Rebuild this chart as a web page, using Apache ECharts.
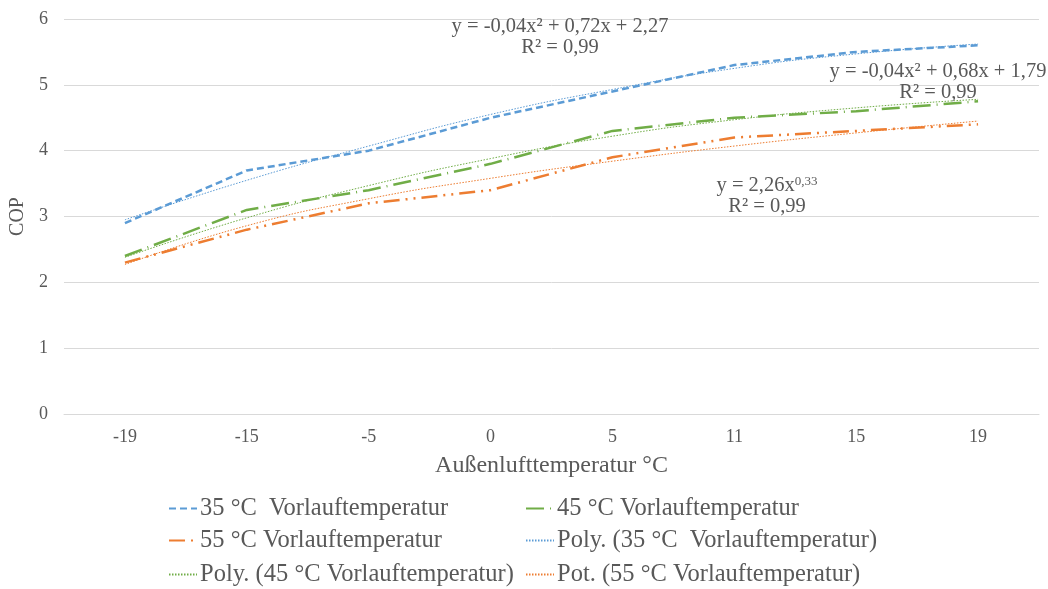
<!DOCTYPE html>
<html>
<head>
<meta charset="utf-8">
<script src="https://cdn.jsdelivr.net/npm/echarts@6/dist/echarts.min.js"></script>
<style>html,body{margin:0;padding:0;background:#fff}#c{width:1048px;height:589px}</style>
</head>
<body>
<div id="c"></div>
<script>
const categories = ['-19', '-15', '-5', '0', '5', '11', '15', '19'];
const cop35 = [2.9, 3.7, 4.0, 4.5, 4.9, 5.3, 5.5, 5.6];
const cop45 = [2.4, 3.1, 3.4, 3.8, 4.3, 4.5, 4.6, 4.75];
const cop55 = [2.3, 2.8, 3.2, 3.4, 3.9, 4.2, 4.3, 4.4];
const trend35 = [2.95, 3.55, 4.07, 4.55, 4.93, 5.25, 5.47, 5.62];
const trend45 = [2.38, 2.98, 3.47, 3.88, 4.22, 4.47, 4.65, 4.78];
const trend55 = [2.27, 2.86, 3.27, 3.58, 3.84, 4.07, 4.27, 4.45];
const names = [
  '35 °C  Vorlauftemperatur',
  '45 °C Vorlauftemperatur',
  '55 °C Vorlauftemperatur',
  'Poly. (35 °C  Vorlauftemperatur)',
  'Poly. (45 °C Vorlauftemperatur)',
  'Pot. (55 °C Vorlauftemperatur)'
];
const blue = '#5B9BD5', green = '#70AD47', orange = '#ED7D31';
const font = 'Liberation Serif';
const txt = '#595959';

const chart = echarts.init(document.getElementById('c'), null, {renderer: 'canvas'});

function lineSeries(name, data, color, width, type, smooth, z) {
  return {
    name: name, type: 'line', data: data, smooth: smooth, symbol: 'none',
    showSymbol: false, z: z,
    lineStyle: {color: color, width: width, type: type, cap: 'butt'},
    itemStyle: {color: color},
    emphasis: {disabled: true}, animation: false
  };
}

const legendPos = [
  {left: 168, top: 496}, {left: 525, top: 496},
  {left: 168, top: 528}, {left: 525, top: 528},
  {left: 168, top: 562}, {left: 525, top: 562}
];
const legends = names.map((n, k) => ({
  data: [n], left: legendPos[k].left, top: legendPos[k].top,
  itemWidth: 28, itemHeight: 12, itemGap: 0,
  itemStyle: {opacity: 0, borderWidth: 0},
  textStyle: {fontFamily: font, fontSize: 24.5, color: txt, padding: [0, 0, 0, -2]},
  selectedMode: false, padding: 0
}));

function annot(lines, cx, topY) {
  return lines.map((l, k) => ({
    type: 'text', x: cx, y: topY + k * 21,
    style: {
      text: l, fill: txt, font: '20.5px "' + font + '"', textAlign: 'center', textVerticalAlign: 'middle',
      rich: {sup: {fontSize: 13, fontFamily: font, fill: txt, verticalAlign: 'top', padding: [0, 0, 9, 0]}}
    },
    z: 10
  }));
}

const option = {
  backgroundColor: '#fff',
  animation: false,
  grid: {left: 64, right: 9, top: 19, bottom: 175, containLabel: false},
  legend: legends,
  xAxis: {
    type: 'category', data: categories, boundaryGap: true,
    name: 'Außenlufttemperatur °C', nameLocation: 'middle', nameGap: 40,
    nameTextStyle: {fontFamily: font, fontSize: 24, color: txt},
    axisLine: {show: true, lineStyle: {color: '#D9D9D9', width: 1}},
    axisTick: {show: false},
    axisLabel: {fontFamily: font, fontSize: 18, color: txt, margin: 14}
  },
  yAxis: {
    type: 'value', min: 0, max: 6, interval: 1,
    name: 'COP', nameLocation: 'middle', nameGap: 36,
    nameTextStyle: {fontFamily: font, fontSize: 20, color: txt},
    axisLine: {show: false}, axisTick: {show: false},
    axisLabel: {fontFamily: font, fontSize: 18, color: txt, margin: 16},
    splitLine: {lineStyle: {color: '#D9D9D9', width: 1}}
  },
  series: [
    lineSeries(names[0], cop35, blue, 2.5, [7, 4], false, 5),
    lineSeries(names[1], cop45, green, 2.5, [18, 6, 1, 6], false, 5),
    lineSeries(names[2], cop55, orange, 2.5, [16, 6, 2, 6, 2, 6], false, 5),
    lineSeries(names[3], trend35, blue, 1, [1.5, 1.5], true, 4),
    lineSeries(names[4], trend45, green, 1, [1.5, 1.5], true, 4),
    lineSeries(names[5], trend55, orange, 1, [1.5, 1.5], true, 4)
  ],
  graphic: [].concat(
    annot(['y = -0,04x² + 0,72x + 2,27', 'R² = 0,99'], 560, 27),
    annot(['y = -0,04x² + 0,68x + 1,79', 'R² = 0,99'], 938, 72),
    annot(['y = 2,26x{sup|0,33}', 'R² = 0,99'], 767, 186)
  )
};
chart.setOption(option);
</script>
</body>
</html>
